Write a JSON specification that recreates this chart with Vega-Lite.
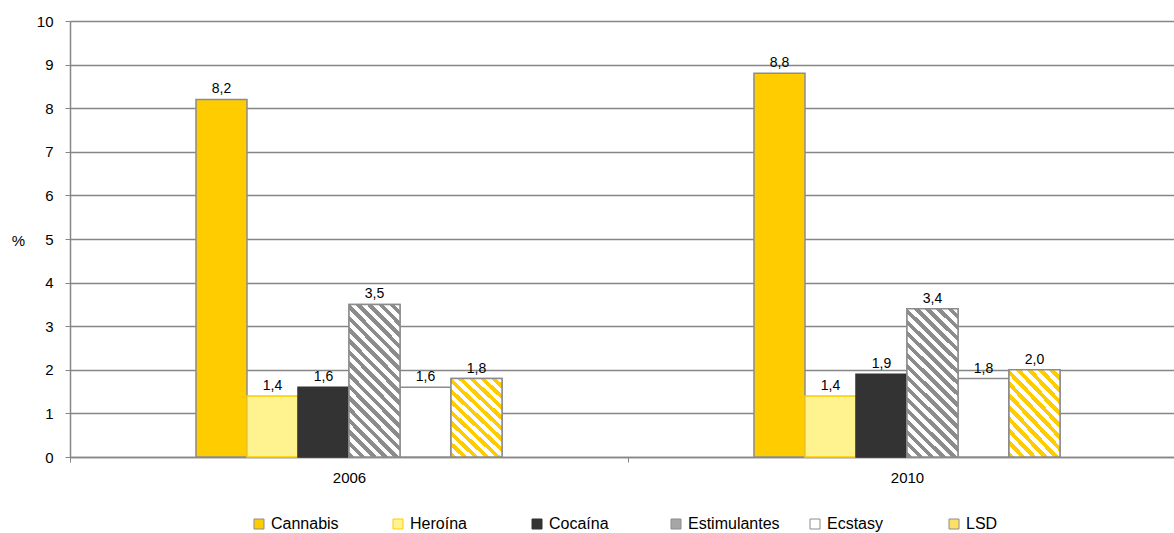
{
  "$schema": "https://vega.github.io/schema/vega-lite/v6.json",
  "width": 1104,
  "height": 436,
  "autosize": {"type": "none"},
  "padding": {"left": 70, "top": 21, "right": 0, "bottom": 76},
  "background": "white",
  "config": {
    "locale": {"number": {"decimal": ",", "thousands": ".", "grouping": [3], "currency": ["", " €"]}},
    "font": "Liberation Sans",
    "view": {"stroke": null},
    "axis": {"domainColor": "#868686", "tickColor": "#868686", "gridColor": "#868686", "labelColor": "#000000", "labelFont": "Liberation Sans", "titleFont": "Liberation Sans", "titleColor": "#000000"}
  },
  "data": {
    "values": [
      {"year": "2006", "drug": "Cannabis", "value": 8.2},
      {"year": "2006", "drug": "Heroína", "value": 1.4},
      {"year": "2006", "drug": "Cocaína", "value": 1.6},
      {"year": "2006", "drug": "Estimulantes", "value": 3.5},
      {"year": "2006", "drug": "Ecstasy", "value": 1.6},
      {"year": "2006", "drug": "LSD", "value": 1.8},
      {"year": "2010", "drug": "Cannabis", "value": 8.8},
      {"year": "2010", "drug": "Heroína", "value": 1.4},
      {"year": "2010", "drug": "Cocaína", "value": 1.9},
      {"year": "2010", "drug": "Estimulantes", "value": 3.4},
      {"year": "2010", "drug": "Ecstasy", "value": 1.8},
      {"year": "2010", "drug": "LSD", "value": 2.0}
    ]
  },
  "encoding": {
    "x": {
      "field": "year", "type": "nominal",
      "scale": {"range": [0, 1116], "paddingInner": 0, "paddingOuter": 0},
      "axis": {"title": null, "labelAngle": 0, "labelFontSize": 15, "labelPadding": 8, "tickBand": "extent", "tickSize": 5, "grid": false, "domainWidth": 1.5}
    },
    "xOffset": {
      "field": "drug", "type": "nominal",
      "scale": {"domain": ["pad1", "pad2", "Cannabis", "Heroína", "Cocaína", "Estimulantes", "Ecstasy", "LSD", "pad3", "pad4"], "paddingInner": 0, "paddingOuter": 0.47}
    },
    "y": {
      "field": "value", "type": "quantitative",
      "scale": {"domain": [0, 10], "nice": false},
      "axis": {"title": "%", "titleAngle": 0, "titleFontSize": 15, "titleFontWeight": "normal", "titleX": -52, "titleY": 219, "titleAlign": "center", "titleBaseline": "middle", "labelFontSize": 15, "labelPadding": 12, "tickSize": 5, "tickCount": 10, "format": "d", "grid": true, "gridWidth": 1.3, "domainWidth": 1.5}
    }
  },
  "layer": [
    {
      "mark": {"type": "bar", "strokeWidth": 1.5},
      "encoding": {
        "color": {
          "field": "drug", "type": "nominal",
          "scale": {"domain": ["Cannabis", "Heroína", "Cocaína", "Estimulantes", "Ecstasy", "LSD"], "range": ["#FFCC00", "#FFF38F", "#333333", "#A6A6A6", "#FFFFFF", "#FFE066"]},
          "legend": {"title": null, "orient": "none", "legendX": 181, "legendY": 495, "direction": "horizontal", "columns": 6, "gridAlign": "all", "columnPadding": 27, "labelFontSize": 16, "labelColor": "#000000", "labelFont": "Liberation Sans", "labelOffset": 4, "symbolType": "square", "symbolSize": 100, "symbolStrokeColor": "#888888", "symbolStrokeWidth": 1, "symbolOpacity": 1}
        },
        "stroke": {
          "field": "drug", "type": "nominal",
          "scale": {"domain": ["Cannabis", "Heroína", "Cocaína", "Estimulantes", "Ecstasy", "LSD"], "range": ["#8C8C8C", "#FFCC00", "#333333", "#8C8C8C", "#8C8C8C", "#8C8C8C"]},
          "legend": null
        }
      }
    },
    {
      "transform": [{"filter": "datum.drug === 'Estimulantes'"}],
      "mark": {
        "type": "bar", "stroke": "#8C8C8C", "strokeWidth": 1.5,
        "fill": {
          "gradient": "linear", "x1": 0, "y1": 1, "x2": 0.407, "y2": -0.201,
          "stops": [
            {"offset": 0, "color": "#8C8C8C"}, {"offset": 0.0278, "color": "#8C8C8C"},
            {"offset": 0.0278, "color": "#FFFFFF"}, {"offset": 0.0556, "color": "#FFFFFF"},
            {"offset": 0.0556, "color": "#8C8C8C"}, {"offset": 0.0833, "color": "#8C8C8C"},
            {"offset": 0.0833, "color": "#FFFFFF"}, {"offset": 0.1111, "color": "#FFFFFF"},
            {"offset": 0.1111, "color": "#8C8C8C"}, {"offset": 0.1389, "color": "#8C8C8C"},
            {"offset": 0.1389, "color": "#FFFFFF"}, {"offset": 0.1667, "color": "#FFFFFF"},
            {"offset": 0.1667, "color": "#8C8C8C"}, {"offset": 0.1944, "color": "#8C8C8C"},
            {"offset": 0.1944, "color": "#FFFFFF"}, {"offset": 0.2222, "color": "#FFFFFF"},
            {"offset": 0.2222, "color": "#8C8C8C"}, {"offset": 0.25, "color": "#8C8C8C"},
            {"offset": 0.25, "color": "#FFFFFF"}, {"offset": 0.2778, "color": "#FFFFFF"},
            {"offset": 0.2778, "color": "#8C8C8C"}, {"offset": 0.3056, "color": "#8C8C8C"},
            {"offset": 0.3056, "color": "#FFFFFF"}, {"offset": 0.3333, "color": "#FFFFFF"},
            {"offset": 0.3333, "color": "#8C8C8C"}, {"offset": 0.3611, "color": "#8C8C8C"},
            {"offset": 0.3611, "color": "#FFFFFF"}, {"offset": 0.3889, "color": "#FFFFFF"},
            {"offset": 0.3889, "color": "#8C8C8C"}, {"offset": 0.4167, "color": "#8C8C8C"},
            {"offset": 0.4167, "color": "#FFFFFF"}, {"offset": 0.4444, "color": "#FFFFFF"},
            {"offset": 0.4444, "color": "#8C8C8C"}, {"offset": 0.4722, "color": "#8C8C8C"},
            {"offset": 0.4722, "color": "#FFFFFF"}, {"offset": 0.5, "color": "#FFFFFF"},
            {"offset": 0.5, "color": "#8C8C8C"}, {"offset": 0.5278, "color": "#8C8C8C"},
            {"offset": 0.5278, "color": "#FFFFFF"}, {"offset": 0.5556, "color": "#FFFFFF"},
            {"offset": 0.5556, "color": "#8C8C8C"}, {"offset": 0.5833, "color": "#8C8C8C"},
            {"offset": 0.5833, "color": "#FFFFFF"}, {"offset": 0.6111, "color": "#FFFFFF"},
            {"offset": 0.6111, "color": "#8C8C8C"}, {"offset": 0.6389, "color": "#8C8C8C"},
            {"offset": 0.6389, "color": "#FFFFFF"}, {"offset": 0.6667, "color": "#FFFFFF"},
            {"offset": 0.6667, "color": "#8C8C8C"}, {"offset": 0.6944, "color": "#8C8C8C"},
            {"offset": 0.6944, "color": "#FFFFFF"}, {"offset": 0.7222, "color": "#FFFFFF"},
            {"offset": 0.7222, "color": "#8C8C8C"}, {"offset": 0.75, "color": "#8C8C8C"},
            {"offset": 0.75, "color": "#FFFFFF"}, {"offset": 0.7778, "color": "#FFFFFF"},
            {"offset": 0.7778, "color": "#8C8C8C"}, {"offset": 0.8056, "color": "#8C8C8C"},
            {"offset": 0.8056, "color": "#FFFFFF"}, {"offset": 0.8333, "color": "#FFFFFF"},
            {"offset": 0.8333, "color": "#8C8C8C"}, {"offset": 0.8611, "color": "#8C8C8C"},
            {"offset": 0.8611, "color": "#FFFFFF"}, {"offset": 0.8889, "color": "#FFFFFF"},
            {"offset": 0.8889, "color": "#8C8C8C"}, {"offset": 0.9167, "color": "#8C8C8C"},
            {"offset": 0.9167, "color": "#FFFFFF"}, {"offset": 0.9444, "color": "#FFFFFF"},
            {"offset": 0.9444, "color": "#8C8C8C"}, {"offset": 0.9722, "color": "#8C8C8C"},
            {"offset": 0.9722, "color": "#FFFFFF"}, {"offset": 1, "color": "#FFFFFF"}
          ]
        }
      }
    },
    {
      "transform": [{"filter": "datum.drug === 'LSD'"}],
      "mark": {
        "type": "bar", "stroke": "#8C8C8C", "strokeWidth": 1.5,
        "fill": {
          "gradient": "linear", "x1": 0, "y1": 1, "x2": 0.722, "y2": -0.17,
          "stops": [
            {"offset": 0, "color": "#FFCC00"}, {"offset": 0.0417, "color": "#FFCC00"},
            {"offset": 0.0417, "color": "#FFFFFF"}, {"offset": 0.0833, "color": "#FFFFFF"},
            {"offset": 0.0833, "color": "#FFCC00"}, {"offset": 0.125, "color": "#FFCC00"},
            {"offset": 0.125, "color": "#FFFFFF"}, {"offset": 0.1667, "color": "#FFFFFF"},
            {"offset": 0.1667, "color": "#FFCC00"}, {"offset": 0.2083, "color": "#FFCC00"},
            {"offset": 0.2083, "color": "#FFFFFF"}, {"offset": 0.25, "color": "#FFFFFF"},
            {"offset": 0.25, "color": "#FFCC00"}, {"offset": 0.2917, "color": "#FFCC00"},
            {"offset": 0.2917, "color": "#FFFFFF"}, {"offset": 0.3333, "color": "#FFFFFF"},
            {"offset": 0.3333, "color": "#FFCC00"}, {"offset": 0.375, "color": "#FFCC00"},
            {"offset": 0.375, "color": "#FFFFFF"}, {"offset": 0.4167, "color": "#FFFFFF"},
            {"offset": 0.4167, "color": "#FFCC00"}, {"offset": 0.4583, "color": "#FFCC00"},
            {"offset": 0.4583, "color": "#FFFFFF"}, {"offset": 0.5, "color": "#FFFFFF"},
            {"offset": 0.5, "color": "#FFCC00"}, {"offset": 0.5417, "color": "#FFCC00"},
            {"offset": 0.5417, "color": "#FFFFFF"}, {"offset": 0.5833, "color": "#FFFFFF"},
            {"offset": 0.5833, "color": "#FFCC00"}, {"offset": 0.625, "color": "#FFCC00"},
            {"offset": 0.625, "color": "#FFFFFF"}, {"offset": 0.6667, "color": "#FFFFFF"},
            {"offset": 0.6667, "color": "#FFCC00"}, {"offset": 0.7083, "color": "#FFCC00"},
            {"offset": 0.7083, "color": "#FFFFFF"}, {"offset": 0.75, "color": "#FFFFFF"},
            {"offset": 0.75, "color": "#FFCC00"}, {"offset": 0.7917, "color": "#FFCC00"},
            {"offset": 0.7917, "color": "#FFFFFF"}, {"offset": 0.8333, "color": "#FFFFFF"},
            {"offset": 0.8333, "color": "#FFCC00"}, {"offset": 0.875, "color": "#FFCC00"},
            {"offset": 0.875, "color": "#FFFFFF"}, {"offset": 0.9167, "color": "#FFFFFF"},
            {"offset": 0.9167, "color": "#FFCC00"}, {"offset": 0.9583, "color": "#FFCC00"},
            {"offset": 0.9583, "color": "#FFFFFF"}, {"offset": 1, "color": "#FFFFFF"}
          ]
        }
      }
    },
    {
      "mark": {"type": "text", "dy": -6, "baseline": "alphabetic", "fontSize": 14, "color": "#000000", "font": "Liberation Sans"},
      "encoding": {
        "text": {"field": "value", "type": "quantitative", "format": ".1f"}
      }
    }
  ]
}
